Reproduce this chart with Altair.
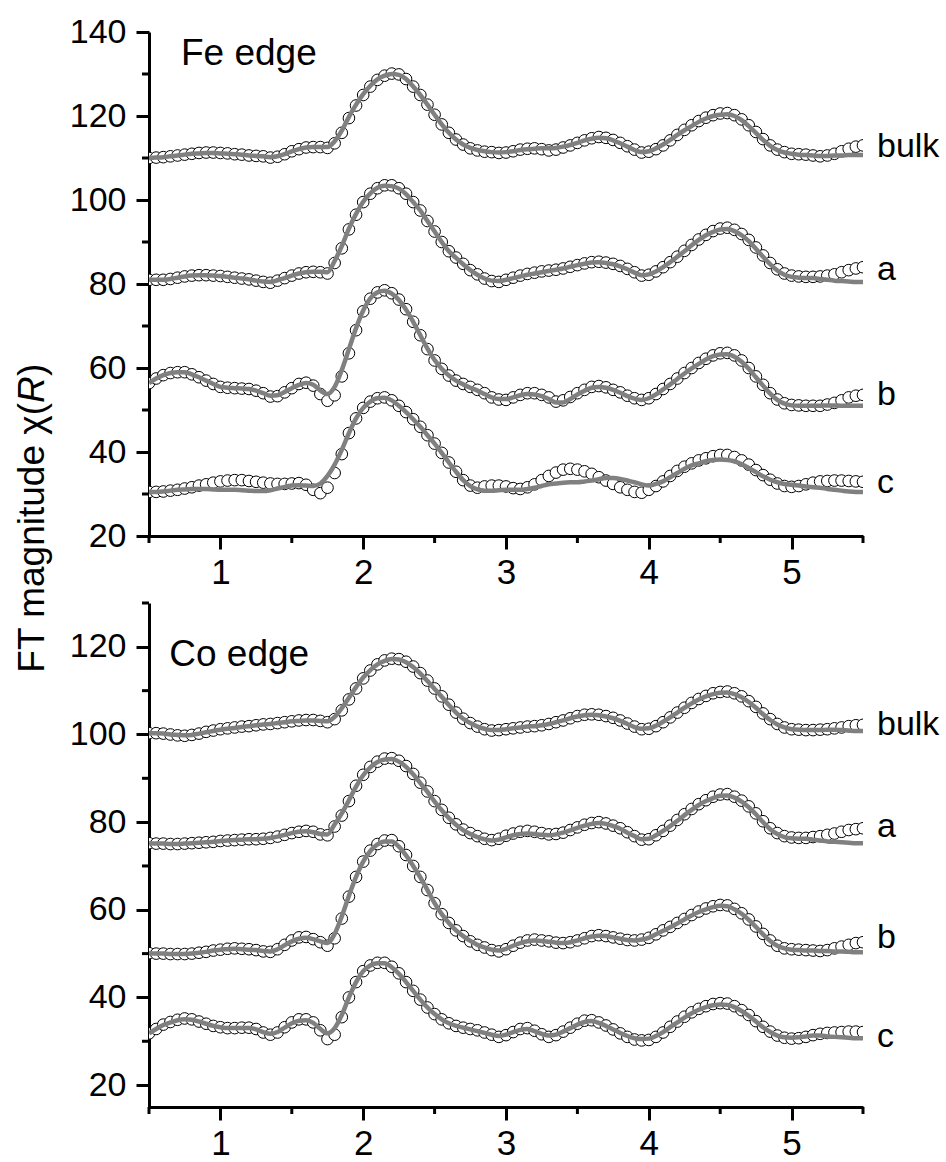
import altair as alt
import pandas as pd

# ---------------- data ----------------
R = [round(0.5 + 0.05 * i, 2) for i in range(101)]   # R grid, 0.50 ... 5.50
SERIES = ["bulk", "a", "b", "c"]

# Fe edge - experimental (circles)
FE_BULK = [110.0, 110.1, 110.2, 110.4, 110.6, 110.8, 111.0, 111.2, 111.3, 111.3,
           111.2, 111.1, 110.9, 110.8, 110.6, 110.5, 110.4, 110.1, 110.3, 110.9,
           111.6, 112.1, 112.5, 112.6, 112.6, 112.4, 113.5, 116.0, 119.5, 122.5,
           125.0, 127.0, 128.6, 129.6, 130.1, 129.9, 128.8, 127.0, 125.0, 122.7,
           120.3, 118.0, 116.0, 114.4, 113.2, 112.3, 111.8, 111.5, 111.4, 111.2,
           111.3, 111.6, 112.0, 112.2, 112.3, 112.1, 111.8, 112.0, 112.5, 113.0,
           113.6, 114.2, 114.7, 115.0, 114.8, 114.3, 113.6, 112.8, 112.0, 111.3,
           111.5, 112.1, 113.0, 114.2, 115.5, 116.7, 117.8, 118.8, 119.6, 120.2,
           120.6, 120.7, 120.2, 119.2, 117.8, 116.2, 114.5, 113.0, 112.0, 111.4,
           111.0, 110.9, 110.8, 110.6, 110.4, 110.6, 111.0, 111.6, 112.2, 112.7, 113.0]
FE_A = [81.0, 81.0, 81.0, 81.2, 81.5, 81.8, 82.0, 82.1, 82.1, 82.0,
        81.9, 81.7, 81.5, 81.3, 81.1, 80.8, 80.5, 80.3, 80.8, 81.4,
        82.0, 82.5, 82.8, 82.9, 82.8, 82.5, 85.0, 88.5, 93.0, 96.5,
        99.5, 101.5, 102.8, 103.5, 103.5, 102.8, 101.5, 99.5, 97.5, 95.0,
        92.5, 90.0, 87.8, 86.3, 84.8, 83.3, 82.3, 81.3, 80.7, 80.5,
        81.0, 81.5, 82.0, 82.4, 82.7, 83.0, 83.2, 83.4, 83.7, 84.1,
        84.5, 84.9, 85.2, 85.3, 85.1, 84.8, 84.3, 83.6, 82.8, 82.0,
        82.2, 83.0, 84.0, 85.2, 86.5, 87.9, 89.3, 90.6, 91.7, 92.6,
        93.2, 93.4, 92.9, 91.9, 90.5, 88.7, 86.8, 85.0, 83.5, 82.5,
        82.0, 81.8, 81.7, 81.7, 81.8, 82.0, 82.3, 82.8, 83.3, 83.7, 84.0]
FE_B = [56.4, 57.5, 58.3, 58.8, 59.0, 59.0, 58.5, 57.8, 57.0, 56.2,
        55.5, 55.3, 55.2, 55.1, 55.0, 54.6, 54.0, 53.2, 53.3, 54.2,
        55.2, 56.2, 56.5, 55.8, 53.8, 52.2, 53.5, 58.0, 63.5, 69.0,
        73.5, 76.5, 78.0, 78.5, 77.8, 76.3, 74.0, 71.0, 67.8, 64.5,
        61.8, 59.8, 58.2, 57.0, 56.2, 55.5, 54.8, 54.0, 53.0, 52.5,
        52.4, 53.0, 53.6, 54.0, 54.0, 53.6, 53.0, 52.0, 52.3, 53.1,
        54.0, 54.8, 55.5, 55.7, 55.4, 54.8, 54.2, 53.4, 52.8, 52.4,
        52.8, 53.8, 55.0, 56.2, 57.5, 58.8, 60.0, 61.2, 62.2, 63.0,
        63.5, 63.6, 63.0, 61.8, 60.0, 58.0, 56.0, 54.0, 52.5, 51.6,
        51.2, 51.1, 51.0, 51.0, 51.0, 51.3, 51.7, 52.3, 53.0, 53.4, 53.6]
FE_C = [30.5, 30.5, 30.6, 30.8, 31.0, 31.3, 31.6, 32.0, 32.3, 32.7,
        33.0, 33.2, 33.3, 33.3, 33.1, 32.9, 32.7, 32.5, 32.4, 32.4,
        32.5, 32.6, 32.2, 31.0, 30.2, 31.5, 35.0, 39.5, 44.5, 48.0,
        50.5, 52.0, 52.8, 53.0, 52.3, 51.0, 49.5, 47.8, 46.0, 44.0,
        42.0, 39.8, 37.5, 35.3, 33.3, 32.0, 31.5, 31.8, 32.0, 32.0,
        31.8, 31.4, 31.2, 31.6, 32.3, 33.3, 34.3, 35.1, 35.8, 36.0,
        35.8, 35.4, 34.8, 34.0, 33.2, 32.4, 31.6, 31.0, 30.5, 30.3,
        31.0, 31.9, 33.0, 34.3, 35.5, 36.5, 37.3, 38.0, 38.5, 39.0,
        39.3, 39.3, 38.8, 38.0, 37.0, 35.7, 34.5, 33.4, 32.5, 31.9,
        31.7, 31.9, 32.3, 32.7, 33.0, 33.1, 33.2, 33.2, 33.1, 33.0, 32.9]

# Fe edge - fits (grey lines)
FE_BULK_FIT = [110.0, 110.1, 110.2, 110.4, 110.6, 110.8, 111.0, 111.1, 111.2, 111.2,
               111.1, 111.0, 110.9, 110.8, 110.6, 110.5, 110.4, 110.2, 110.4, 110.9,
               111.6, 112.1, 112.5, 112.6, 112.6, 112.6, 114.0, 116.5, 119.8, 122.7,
               125.2, 127.2, 128.7, 129.6, 130.0, 129.8, 128.8, 127.0, 125.0, 122.7,
               120.3, 118.0, 116.0, 114.4, 113.2, 112.4, 111.9, 111.6, 111.4, 111.3,
               111.4, 111.6, 111.9, 112.1, 112.2, 112.3, 112.3, 112.4, 112.7, 113.1,
               113.6, 114.2, 114.6, 114.8, 114.7, 114.2, 113.5, 112.7, 111.9, 111.4,
               111.6, 112.3, 113.2, 114.3, 115.5, 116.6, 117.6, 118.6, 119.4, 120.0,
               120.3, 120.4, 120.0, 119.0, 117.6, 116.0, 114.3, 112.9, 111.9, 111.3,
               111.0, 110.8, 110.7, 110.6, 110.5, 110.5, 110.6, 110.6, 110.7, 110.7, 110.7]
FE_A_FIT = [81.0, 81.0, 81.0, 81.2, 81.5, 81.8, 82.0, 82.1, 82.1, 82.0,
            81.9, 81.7, 81.5, 81.3, 81.1, 80.8, 80.6, 80.5, 80.9, 81.4,
            82.0, 82.5, 82.8, 82.9, 82.9, 82.8, 85.5, 89.0, 93.2, 96.7,
            99.6, 101.6, 102.9, 103.4, 103.3, 102.7, 101.4, 99.5, 97.5, 95.0,
            92.5, 90.0, 87.8, 86.2, 84.7, 83.3, 82.2, 81.3, 80.8, 80.7,
            81.0, 81.4, 81.8, 82.2, 82.5, 82.8, 83.1, 83.4, 83.7, 84.1,
            84.5, 84.8, 85.1, 85.2, 85.0, 84.7, 84.2, 83.5, 82.7, 82.1,
            82.3, 83.0, 84.0, 85.2, 86.5, 87.8, 89.2, 90.5, 91.6, 92.4,
            93.0, 93.1, 92.6, 91.6, 90.2, 88.4, 86.5, 84.7, 83.2, 82.2,
            81.7, 81.5, 81.4, 81.4, 81.2, 81.0, 80.8, 80.7, 80.6, 80.5, 80.5]
FE_B_FIT = [56.4, 57.5, 58.3, 58.8, 59.0, 59.0, 58.5, 57.8, 57.0, 56.2,
            55.5, 55.3, 55.2, 55.1, 55.0, 54.6, 54.0, 53.4, 53.5, 54.3,
            55.2, 56.0, 56.4, 56.0, 54.6, 53.8, 55.5, 59.5, 64.5, 69.5,
            73.7, 76.6, 78.0, 78.4, 77.7, 76.2, 73.9, 71.0, 67.8, 64.6,
            61.9, 59.8, 58.2, 57.0, 56.1, 55.3, 54.6, 53.8, 53.0, 52.6,
            52.6, 53.0, 53.5, 53.8, 53.7, 53.3, 52.6, 51.8, 51.8, 52.6,
            53.7, 54.6, 55.3, 55.5, 55.3, 54.8, 54.1, 53.3, 52.7, 52.4,
            52.8, 53.7, 54.9, 56.1, 57.4, 58.7, 59.9, 61.0, 62.0, 62.8,
            63.2, 63.3, 62.7, 61.5, 59.8, 57.8, 55.8, 53.9, 52.4, 51.5,
            51.1, 51.0, 51.0, 51.0, 51.0, 51.1, 51.1, 51.0, 51.0, 51.0, 51.0]
FE_C_FIT = [30.5, 30.5, 30.6, 30.8, 31.0, 31.1, 31.2, 31.2, 31.2, 31.1,
            31.0, 31.0, 31.0, 30.9, 30.8, 30.7, 30.7, 30.9, 31.3, 31.7,
            32.0, 32.1, 32.0, 31.9, 32.5, 34.3, 37.0, 40.5, 44.5, 48.0,
            50.5, 52.0, 52.8, 52.9, 52.3, 51.0, 49.5, 47.8, 46.0, 44.0,
            42.0, 39.8, 37.5, 35.3, 33.3, 31.9, 31.1, 30.8, 30.8, 30.9,
            31.0, 31.0, 31.0, 31.2, 31.5, 31.9, 32.3, 32.5, 32.7, 32.8,
            32.8, 33.0, 33.2, 33.5, 33.8, 33.8, 33.6, 33.2, 32.8, 32.3,
            32.0, 32.4, 33.0, 34.0, 35.0, 36.0, 36.8, 37.3, 37.8, 38.1,
            38.2, 38.1, 37.8, 37.1, 36.2, 35.2, 34.2, 33.4, 32.8, 32.4,
            32.2, 32.0, 31.8, 31.6, 31.5, 31.2, 31.0, 30.8, 30.6, 30.5, 30.5]

# Co edge - experimental (circles)
CO_BULK = [100.3, 100.3, 100.2, 100.0, 99.8, 99.7, 99.9, 100.2, 100.6, 100.9,
           101.2, 101.4, 101.6, 101.8, 101.9, 102.1, 102.3, 102.4, 102.6, 102.8,
           103.0, 103.2, 103.3, 103.3, 103.1, 102.8, 103.5, 105.5, 108.0, 110.5,
           112.8, 114.6, 116.0, 116.9, 117.3, 117.2, 116.6, 115.5, 114.0, 112.3,
           110.5, 108.7, 106.8, 105.0, 103.6, 102.6, 101.8, 101.2, 100.9, 101.0,
           101.2, 101.4, 101.6, 101.8, 101.9, 102.1, 102.4, 102.8, 103.2, 103.7,
           104.2, 104.5, 104.6, 104.5, 104.2, 103.8, 103.2, 102.5, 101.8, 101.2,
           101.3, 101.9, 102.8, 103.9, 105.0, 106.1, 107.2, 108.1, 108.8, 109.4,
           109.7, 109.8, 109.4, 108.7, 107.6, 106.3, 104.8, 103.5, 102.4, 101.6,
           101.2, 101.1, 101.0, 101.0, 101.1, 101.2, 101.4, 101.6, 101.9, 102.1, 102.2]
CO_A = [75.2, 75.1, 75.1, 75.0, 75.0, 75.1, 75.2, 75.3, 75.4, 75.5,
        75.7, 75.8, 75.9, 76.0, 76.1, 76.1, 76.2, 76.4, 76.7, 77.1,
        77.5, 77.8, 78.0, 77.8, 77.2, 77.0, 79.0, 81.5, 84.8, 88.3,
        90.8, 92.6, 93.8, 94.5, 94.6, 94.0, 92.8, 91.0, 89.0, 87.0,
        84.8, 82.8, 81.0, 79.5, 78.3, 77.5, 76.8, 76.2, 75.9, 76.2,
        76.9, 77.4, 77.8, 78.0, 77.8, 77.5, 77.2, 77.3, 77.6, 78.2,
        78.8, 79.4, 79.8, 80.0, 79.7, 79.2, 78.6, 77.7, 76.8, 76.0,
        76.1, 77.0, 78.0, 79.2, 80.5, 81.8, 83.0, 84.1, 85.0, 85.8,
        86.3, 86.4, 85.8, 84.9, 83.6, 82.0, 80.2, 78.6, 77.5, 76.8,
        76.5, 76.4, 76.4, 76.6, 76.8, 77.1, 77.4, 77.8, 78.2, 78.4, 78.6]
CO_B = [50.1, 50.0, 50.0, 49.9, 49.9, 49.9, 50.0, 50.2, 50.4, 50.7,
        50.9, 51.1, 51.2, 51.1, 51.0, 50.8, 50.5, 50.4, 51.0, 52.0,
        53.0, 53.7, 53.8, 53.3, 52.6, 51.8, 53.5, 58.0, 63.0, 67.5,
        71.0, 73.5, 75.0, 75.8, 75.9, 74.5, 72.5, 70.0, 67.5, 64.5,
        61.5, 59.0, 57.0, 55.3, 54.0, 52.8, 52.0, 51.4, 50.8, 50.5,
        51.0, 51.8, 52.5, 53.0, 53.2, 53.0, 52.8, 52.5, 52.4, 52.6,
        53.0, 53.5, 54.0, 54.2, 54.0, 53.7, 53.4, 53.1, 53.0, 53.2,
        53.6, 54.4, 55.3, 56.1, 57.0, 57.9, 58.8, 59.6, 60.3, 60.8,
        61.1, 61.0, 60.2, 59.2, 57.8, 56.2, 54.5, 53.0, 51.8, 51.2,
        51.0, 50.9, 50.8, 50.7, 50.6, 50.8, 51.2, 51.6, 52.0, 52.4, 52.6]
CO_C = [31.8, 32.8, 33.8, 34.4, 34.9, 35.2, 35.0, 34.5, 34.0, 33.5,
        33.2, 33.0, 33.0, 33.1, 33.1, 32.8, 32.0, 31.5, 32.0, 33.2,
        34.3, 35.0, 35.0, 34.3, 32.5, 30.5, 31.5, 35.5, 40.0, 43.5,
        46.0, 47.3, 47.9, 47.9, 47.0, 45.5, 43.5, 41.5, 39.5, 37.7,
        36.2, 35.0, 34.1, 33.5, 33.1, 32.8, 32.5, 32.0, 31.5, 31.0,
        31.4, 32.1, 32.8, 33.0, 32.4, 31.6, 31.0, 31.4, 32.2, 33.1,
        34.0, 34.7, 34.8, 34.3, 33.6, 32.7, 31.8, 31.0, 30.4, 30.2,
        30.3, 31.0, 32.0, 33.3, 34.5, 35.6, 36.6, 37.4, 38.0, 38.5,
        38.7, 38.6, 38.0, 37.1, 36.0, 34.6, 33.3, 32.2, 31.3, 30.8,
        30.6, 30.7, 31.0, 31.4, 31.7, 31.9, 32.0, 32.1, 32.2, 32.2, 32.1]

# Co edge - fits (grey lines)
CO_BULK_FIT = [100.3, 100.3, 100.2, 100.0, 99.9, 99.8, 99.9, 100.2, 100.5, 100.8,
               101.1, 101.3, 101.5, 101.7, 101.9, 102.1, 102.3, 102.4, 102.6, 102.8,
               103.0, 103.1, 103.2, 103.2, 103.1, 103.0, 104.0, 106.0, 108.4, 110.8,
               113.0, 114.7, 116.0, 116.8, 117.2, 117.1, 116.5, 115.4, 113.9, 112.2,
               110.4, 108.6, 106.7, 105.0, 103.6, 102.6, 101.8, 101.3, 101.0, 101.0,
               101.2, 101.4, 101.6, 101.8, 101.9, 102.1, 102.4, 102.8, 103.2, 103.7,
               104.1, 104.4, 104.5, 104.4, 104.1, 103.7, 103.1, 102.4, 101.7, 101.3,
               101.4, 102.0, 102.9, 103.9, 105.0, 106.1, 107.1, 108.0, 108.7, 109.2,
               109.5, 109.6, 109.2, 108.5, 107.4, 106.1, 104.6, 103.3, 102.3, 101.6,
               101.2, 101.1, 101.0, 101.0, 101.0, 101.1, 101.1, 101.0, 100.9, 100.8, 100.8]
CO_A_FIT = [75.2, 75.1, 75.1, 75.0, 75.0, 75.1, 75.2, 75.3, 75.4, 75.5,
            75.7, 75.8, 75.9, 76.0, 76.1, 76.1, 76.2, 76.4, 76.7, 77.1,
            77.5, 77.8, 77.9, 77.7, 77.3, 77.2, 79.5, 82.0, 85.0, 88.1,
            90.7, 92.5, 93.7, 94.3, 94.4, 93.8, 92.6, 90.9, 88.9, 86.9,
            84.7, 82.7, 80.9, 79.4, 78.2, 77.3, 76.6, 76.1, 75.8, 76.0,
            76.5, 77.0, 77.3, 77.4, 77.3, 77.1, 77.0, 77.2, 77.6, 78.1,
            78.7, 79.2, 79.6, 79.8, 79.6, 79.1, 78.5, 77.6, 76.8, 76.1,
            76.2, 77.0, 78.0, 79.1, 80.3, 81.6, 82.8, 83.9, 84.8, 85.5,
            86.0, 86.1, 85.6, 84.7, 83.4, 81.8, 80.0, 78.4, 77.3, 76.6,
            76.3, 76.2, 76.2, 76.0, 75.8, 75.6, 75.5, 75.4, 75.3, 75.2, 75.2]
CO_B_FIT = [50.1, 50.0, 50.0, 49.9, 49.9, 49.9, 50.0, 50.2, 50.4, 50.7,
            50.9, 51.0, 51.1, 51.0, 50.9, 50.8, 50.6, 50.5, 51.0, 51.9,
            52.8, 53.4, 53.6, 53.3, 52.8, 52.4, 54.5, 58.5, 63.2, 67.5,
            71.0, 73.4, 74.9, 75.6, 75.6, 74.4, 72.4, 70.0, 67.4, 64.5,
            61.5, 59.0, 57.0, 55.3, 54.0, 52.9, 52.0, 51.4, 50.9, 50.7,
            51.1, 51.8, 52.4, 52.8, 53.0, 52.9, 52.7, 52.5, 52.4, 52.6,
            53.0, 53.5, 53.9, 54.1, 54.0, 53.7, 53.4, 53.1, 53.0, 53.2,
            53.6, 54.4, 55.2, 56.0, 56.9, 57.8, 58.7, 59.5, 60.1, 60.6,
            60.9, 60.8, 60.1, 59.1, 57.7, 56.1, 54.4, 52.9, 51.8, 51.2,
            50.9, 50.8, 50.7, 50.7, 50.6, 50.6, 50.5, 50.5, 50.4, 50.3, 50.3]
CO_C_FIT = [31.8, 32.8, 33.7, 34.3, 34.8, 35.0, 34.9, 34.5, 34.0, 33.5,
            33.2, 33.0, 33.0, 33.0, 33.0, 32.7, 32.1, 31.7, 32.1, 33.1,
            34.1, 34.7, 34.8, 34.2, 32.8, 31.8, 33.0, 36.0, 40.0, 43.5,
            46.0, 47.3, 47.8, 47.8, 46.9, 45.4, 43.5, 41.5, 39.5, 37.7,
            36.2, 35.0, 34.1, 33.5, 33.1, 32.7, 32.3, 31.9, 31.5, 31.2,
            31.5, 32.1, 32.6, 32.8, 32.3, 31.7, 31.3, 31.5, 32.2, 33.0,
            33.8, 34.4, 34.6, 34.2, 33.5, 32.7, 31.9, 31.2, 30.7, 30.5,
            30.6, 31.2, 32.1, 33.2, 34.3, 35.4, 36.4, 37.2, 37.8, 38.2,
            38.4, 38.3, 37.8, 36.9, 35.8, 34.5, 33.2, 32.1, 31.3, 30.9,
            30.8, 30.9, 31.1, 31.3, 31.3, 31.1, 31.0, 30.9, 30.8, 30.7, 30.7]

# curve labels at the right end (vertical level of each label)
FE_LABEL_Y = [112.6, 83.3, 53.6, 32.6]
CO_LABEL_Y = [102.1, 78.9, 53.5, 30.9]

X_DOMAIN = [0.5, 5.5]
X_MAJOR = [1, 2, 3, 4, 5]
X_MINOR = [0.5, 1.5, 2.5, 3.5, 4.5, 5.5]
FE_Y_DOMAIN = [20, 140]
FE_Y_MAJOR = [20, 40, 60, 80, 100, 120, 140]
FE_Y_MINOR = [30, 50, 70, 90, 110, 130]
CO_Y_DOMAIN = [15, 130]
CO_Y_MAJOR = [20, 40, 60, 80, 100, 120]
CO_Y_MINOR = [30, 50, 70, 90, 110, 130]

FONT = "Liberation Sans"
PANEL_W, PANEL_H = 714, 504
MAJOR_LEN, MINOR_LEN = 13, 7


def long_frame(series_lists):
    rows = []
    for name, ys in zip(SERIES, series_lists):
        assert len(ys) == len(R), (name, len(ys))
        for r, y in zip(R, ys):
            rows.append({"R": r, "v": y, "series": name})
    return pd.DataFrame(rows)


def axis_common():
    return dict(
        title=None, grid=False, format="d",
        domainColor="black", domainWidth=3,
        tickColor="black", tickWidth=3, tickSize=MAJOR_LEN,
        labelColor="black", labelFont=FONT,
        labelFlush=False, labelOverlap=False, labelBound=False,
    )


def panel(data_lists, fit_lists, ydom, ymajor, yminor, label_y, edge_text, edge_x, edge_y, with_title):
    xs = alt.Scale(domain=X_DOMAIN, nice=False, zero=False)
    ys = alt.Scale(domain=ydom, nice=False, zero=False)
    x_axis = alt.Axis(values=X_MAJOR, labelPadding=6, labelFontSize=35, **axis_common())
    y_axis = alt.Axis(values=ymajor, labelPadding=10, labelFontSize=34, **axis_common())
    pts = alt.Chart(long_frame(data_lists)).mark_circle(
        size=135, fill="white", stroke="black", strokeWidth=1, opacity=1, clip=True
    ).encode(
        x=alt.X("R:Q", scale=xs, axis=x_axis),
        y=alt.Y("v:Q", scale=ys, axis=y_axis),
    )
    fit = alt.Chart(long_frame(fit_lists)).mark_line(
        color="#808080", strokeWidth=4.5, interpolate="monotone", clip=True
    ).encode(x="R:Q", y="v:Q", detail="series:N")
    # minor ticks (outside the plot, below the x axis and left of the y axis)
    xminor = alt.Chart(pd.DataFrame({"R": X_MINOR})).mark_rule(
        color="black", strokeWidth=3
    ).encode(x="R:Q", y=alt.value(PANEL_H), y2=alt.value(PANEL_H + MINOR_LEN))
    yminor_ch = alt.Chart(pd.DataFrame({"v": yminor})).mark_rule(
        color="black", strokeWidth=3
    ).encode(y="v:Q", x=alt.value(0), x2=alt.value(-MINOR_LEN))
    labels = alt.Chart(pd.DataFrame({"R": [X_DOMAIN[1]] * 4, "v": label_y, "t": SERIES})).mark_text(
        align="left", baseline="middle", dx=14, fontSize=34, font=FONT, color="black"
    ).encode(x="R:Q", y="v:Q", text="t:N")
    edge = alt.Chart(pd.DataFrame({"R": [edge_x], "v": [edge_y], "t": [edge_text]})).mark_text(
        align="left", baseline="alphabetic", fontSize=37, font=FONT, color="black"
    ).encode(x="R:Q", y="v:Q", text="t:N")
    layers = [pts, fit, xminor, yminor_ch, labels, edge]
    if with_title:
        t1 = alt.Chart(pd.DataFrame({"t": ["FT magnitude \u03c7("]})).mark_text(
            angle=270, align="right", baseline="alphabetic", fontSize=37, font=FONT, color="black"
        ).encode(x=alt.value(-105), y=alt.value(371), text="t:N")
        t2 = alt.Chart(pd.DataFrame({"t": ["R"]})).mark_text(
            angle=270, align="left", baseline="alphabetic", fontSize=37, font=FONT,
            fontStyle="italic", color="black"
        ).encode(x=alt.value(-105), y=alt.value(371), text="t:N")
        t3 = alt.Chart(pd.DataFrame({"t": [")"]})).mark_text(
            angle=270, align="left", baseline="alphabetic", fontSize=37, font=FONT, color="black"
        ).encode(x=alt.value(-105), y=alt.value(344), text="t:N")
        layers += [t1, t2, t3]
    return alt.layer(*layers).properties(width=PANEL_W, height=PANEL_H)


top = panel([FE_BULK, FE_A, FE_B, FE_C], [FE_BULK_FIT, FE_A_FIT, FE_B_FIT, FE_C_FIT],
            FE_Y_DOMAIN, FE_Y_MAJOR, FE_Y_MINOR, FE_LABEL_Y, "Fe edge", 0.724, 132.1, True)
bottom = panel([CO_BULK, CO_A, CO_B, CO_C], [CO_BULK_FIT, CO_A_FIT, CO_B_FIT, CO_C_FIT],
               CO_Y_DOMAIN, CO_Y_MAJOR, CO_Y_MINOR, CO_LABEL_Y, "Co edge", 0.642, 115.6, False)

chart = alt.vconcat(top, bottom, spacing=67).properties(
    bounds="flush",
    padding={"left": 14, "top": 15, "right": 5, "bottom": 0},
    background="white",
).configure_view(stroke=None)

chart.save("out.html", embed_options={"renderer": "svg", "actions": False})
